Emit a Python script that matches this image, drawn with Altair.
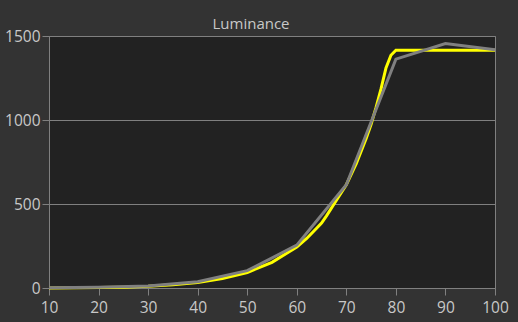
import altair as alt
import pandas as pd

# Measured / reference series (signal level % vs luminance cd/m2)
gray_x = [10, 20, 30, 40, 50, 60, 70, 80, 90, 100]
gray_y = [1, 4, 12, 37, 103, 255, 615, 1362, 1455, 1418]

yellow_x = [10, 15, 20, 25, 30, 35, 40, 45, 50, 55, 60, 62, 64, 65, 66, 68, 70,
            72, 74, 75, 76, 77, 78, 79, 80, 100]
yellow_y = [0.3, 1, 2.5, 5, 10, 19, 33, 56, 92, 153, 244, 295, 356, 386, 429, 522, 615,
            740, 890, 975, 1075, 1185, 1310, 1385, 1415, 1415]

x_ticks = [10, 20, 30, 40, 50, 60, 70, 80, 90, 100]
y_ticks = [0, 500, 1000, 1500]

df = pd.concat([
    pd.DataFrame({"x": yellow_x, "y": yellow_y, "s": "target"}),
    pd.DataFrame({"x": gray_x, "y": gray_y, "s": "measured"}),
])

FONT = "Open Sans"

xs = alt.Scale(domain=[10, 100], nice=False, zero=False)
ys = alt.Scale(domain=[0, 1500], nice=False)

base = alt.Chart(df)

yellow = base.transform_filter(alt.datum.s == "target").mark_line(
    color="#ffff00", strokeWidth=3, strokeJoin="miter"
).encode(
    x=alt.X("x:Q", scale=xs, axis=alt.Axis(values=x_ticks, title=None, grid=False, format="d",
                                          tickSize=7, labelPadding=5, labelFlush=False)),
    y=alt.Y("y:Q", scale=ys, axis=alt.Axis(values=y_ticks, title=None, grid=True, format="d",
                                          tickSize=7, labelPadding=2, labelFlush=False)),
)

gray = base.transform_filter(alt.datum.s == "measured").mark_line(
    color="#808080", strokeWidth=3, strokeJoin="miter"
).encode(x=alt.X("x:Q", scale=xs), y=alt.Y("y:Q", scale=ys))

chart = alt.layer(yellow, gray).properties(
    width=446,
    height=252,
    autosize=alt.AutoSizeParams(type="none"),
    padding={"left": 49, "top": 36, "right": 23, "bottom": 34},
    background="#333333",
    title=alt.TitleParams("Luminance", anchor="middle", frame="group", baseline="alphabetic",
                          offset=7, dy=22, dx=-21, font=FONT, fontSize=15, fontWeight="normal",
                          color="#c8c8c8"),
).configure_view(
    fill="#222222", stroke="#808080", strokeWidth=1
).configure_axis(
    domainColor="#808080", tickColor="#808080", gridColor="#808080", gridWidth=1,
    labelColor="#c8c8c8", labelFont=FONT, labelFontSize=15.5, domainWidth=1, tickWidth=1,
)

chart.save("out.html", embed_options={"renderer": "svg", "actions": False})
